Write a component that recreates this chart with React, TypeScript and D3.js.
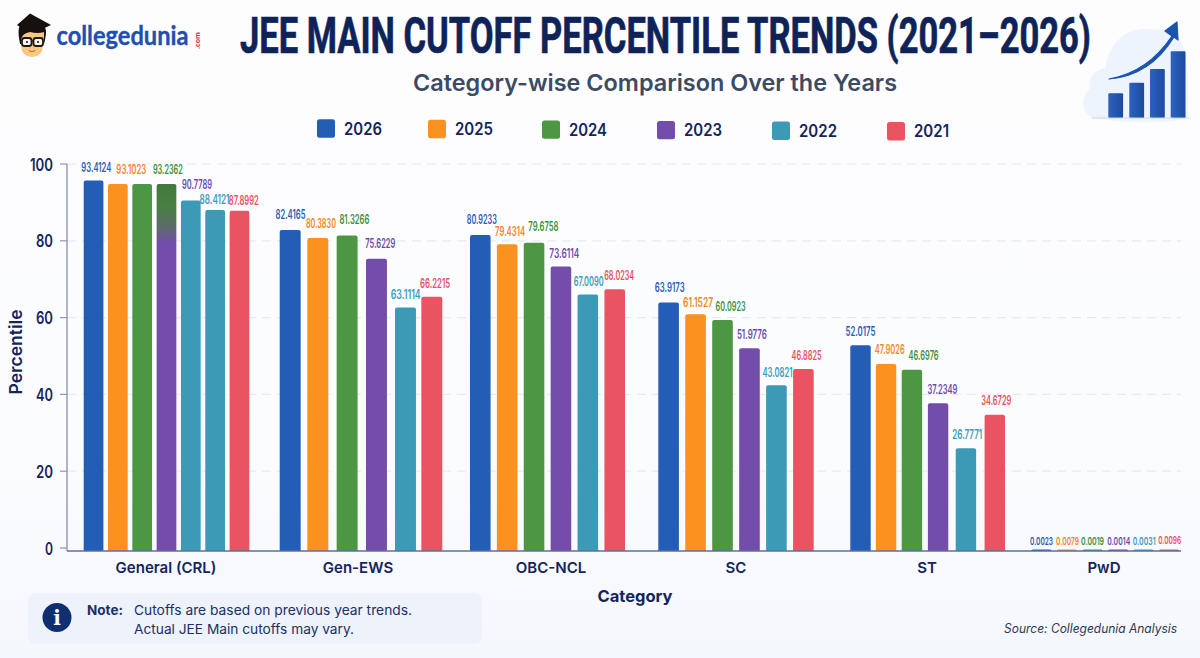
import React from "react";
import * as d3 from "d3";

// ---------- data ----------
const years = ["2026", "2025", "2024", "2023", "2022", "2021"];
const categories = ["General (CRL)", "Gen-EWS", "OBC-NCL", "SC", "ST", "PwD"];
const yTicks = [0, 20, 40, 60, 80, 100];

// Bar heights as drawn in the picture (the printed labels differ slightly from them)
const generalBars = [95.7, 94.8, 94.8, 94.8, 90.5, 88.0, 87.8];
const ewsBars = [82.8, 80.7, 81.4, 75.3, 62.6, 65.4];
const obcBars = [81.5, 79.1, 79.5, 73.3, 66.0, 67.4];
const scBars = [63.9, 60.9, 59.4, 52.0, 42.4, 46.6];
const stBars = [52.8, 47.9, 46.4, 37.7, 26.0, 34.7];
const pwdBars = [0.0023, 0.0079, 0.0019, 0.0014, 0.0031, 0.0096];

// Printed labels
const generalLabels = ["93.4124", "93.1023", "93.2362", null, "90.7789", "88.4121", "87.8992"];
const ewsLabels = ["82.4165", "80.3830", "81.3266", "75.6229", "63.1114", "66.2215"];
const obcLabels = ["80.9233", "79.4314", "79.6758", "73.6114", "67.0090", "68.0234"];
const scLabels = ["63.9173", "61.1527", "60.0923", "51.9776", "43.0821", "46.8825"];
const stLabels = ["52.0175", "47.9026", "46.6976", "37.2349", "26.7771", "34.6729"];
const pwdLabels = ["0.0023", "0.0079", "0.0019", "0.0014", "0.0031", "0.0096"];

// Which year colours each bar / label takes (the General group carries an extra bar)
const regularBarYears = [0, 1, 2, 3, 4, 5];
const generalBarYears = [0, 1, 2, 3, 4, 4, 5];
const generalLabelYears = [0, 1, 2, 3, 3, 4, 5];

const barValues = [generalBars, ewsBars, obcBars, scBars, stBars, pwdBars];
const labelTexts = [generalLabels, ewsLabels, obcLabels, scLabels, stLabels, pwdLabels];

// ---------- layout ----------
const W = 1200, H = 658;
const axisX = 67, baseY = 551, plotRight = 1181;
const colors = ["#245db5", "#fb921f", "#4d9644", "#744dab", "#3d9ab6", "#ea5362"];
const labelColors = ["#2e5bb5", "#f6852a", "#3c9040", "#6d49ad", "#3f9bb9", "#eb4f5f"];
const navy = "#14245c";
const groupSpans = [[83.7, 249.3], [279.7, 442.3], [470, 625], [658.3, 813.7], [850.3, 1005], [1031.3, 1179.3]];
const groupLabelX = [166, 358, 551, 736, 927, 1104];
const groupInner = [0.19, 0.26, 0.235, 0.235, 0.24, 0.2];
const barNudge = [
  [0, 0, 0, 0, 0, 0, 0],
  [0, -0.7, 0.3, 1.3, 2, 0],
  [0, 0, 0, 0, 0, 0],
  [0, 0, 0, 0, 0, 0],
  [0, -1.3, -2.3, -3, -2, 0],
  [0, 0, 0, 0, 0, 0],
];
const labelDx = [
  [2.8, 13.5, 25.7, 0, 6.2, -0.6, 4.4],
  [0.3, 3.1, 7.3, 3.9, 0.2, 3.3],
  [1.5, 2.9, 9.3, 3.3, 0.9, 4.5],
  [1.1, 2.5, 8.1, 2.4, 1, 3.2],
  [0, 3.7, 11.7, 4.3, 1.3, 1.5],
  [0, 0.5, 0, 0.7, 0.6, 0.6],
];
const labelDy = [
  [-12.8, -14, -14, 0, -15.5, -10.7, -10.7],
  [-15.7, -14.3, -16, -15, -13.4, -13.7],
  [-15, -12.3, -16, -13.4, -13.4, -13.7],
  [-14.7, -12, -13.3, -13.6, -12.6, -13.3],
  [-13.6, -14, -14, -13.3, -13.3, -14.4],
  [-8.2, -8.2, -7.6, -7.6, -8, -8.8],
];
const legendX = [317, 428, 542, 657, 772, 887];
const sans = "Inter, Roboto, 'Liberation Sans', sans-serif";
const narrow = "'Liberation Sans Narrow', Roboto, 'Liberation Sans', sans-serif";

const y = d3.scaleLinear().domain([0, 100]).range([548, 164]);

function rTop(x: number, top: number, w: number, bottom: number, r: number) {
  const p = d3.path();
  const rr = Math.min(r, (bottom - top));
  p.moveTo(x, bottom);
  p.lineTo(x, top + rr);
  p.quadraticCurveTo(x, top, x + rr, top);
  p.lineTo(x + w - rr, top);
  p.quadraticCurveTo(x + w, top, x + w, top + rr);
  p.lineTo(x + w, bottom);
  p.closePath();
  return p.toString();
}

function Logo() {
  return (
    <g>
      <path d="M19 38 Q17 24 24 22 L42 22 Q48 28 45 40 L44 44 L20 44 Z" fill="#17120f" />
      <path d="M21 40 Q22 33 30 32 Q38 34 44 32 Q44 42 43 46 Q42 57 32 57 Q22 57 21 46 Z" fill="#f9c77f" />
      <path d="M17 25 L30 13.5 L51 25 L36 32 L28 32 Z" fill="#16110f" />
      <rect x="22" y="38" width="9.5" height="8" rx="2.5" fill="#fff8ea" stroke="#1a1a1a" strokeWidth="1.8" />
      <rect x="33.5" y="38" width="9.5" height="8" rx="2.5" fill="#fff8ea" stroke="#1a1a1a" strokeWidth="1.8" />
      <path d="M31.5 41 L33.5 41" stroke="#1a1a1a" strokeWidth="1.5" />
      <circle cx="27" cy="42" r="1.1" fill="#222" />
      <circle cx="38" cy="42" r="1.1" fill="#222" />
      <path d="M29 50.5 Q32 52.5 35 50.5" fill="none" stroke="#c9603f" strokeWidth="1.1" />
      <text x="56.5" y="45" fontFamily="Lato, 'Open Sans', sans-serif" fontWeight={700} fontSize={27} fill="#1f4fb0" stroke="#1f4fb0" strokeWidth={0.35} textLength={132} lengthAdjust="spacingAndGlyphs">collegedunia</text>
      <text transform="translate(200,49) rotate(-90)" fontFamily="'Open Sans', sans-serif" fontWeight={700} fontSize={7.5} fill="#e0352f" textLength={17} lengthAdjust="spacingAndGlyphs">.com</text>
    </g>
  );
}

function GrowthIcon() {
  const xs = [1108.3, 1129.3, 1150, 1170.7];
  const tops = [93.3, 82.7, 69, 51.3];
  return (
    <g>
      <path d="M1092 118 Q1075 105 1090 88 Q1088 72 1105 68 Q1112 32 1142 29 Q1165 28 1178 36 Q1190 50 1188 118 Z" fill="#eef4fd" />
      <path d="M1092 118 L1189 118 Q1150 127 1092 118 Z" fill="#f1f6fd" />
      {xs.map((x, i) => (
        <rect key={i} x={x} y={tops[i]} width={14.8} height={118 - tops[i]} rx={1} fill="url(#iconBar)" />
      ))}
      <line x1={1092} x2={1189} y1={118} y2={118} stroke="#c6d7f1" strokeWidth={1.2} />
      <path d="M1109 79 Q1148 72 1172 36 L1165 31 L1177 22 L1178 40 L1174 37 Q1150 76 1109 79 Z" fill="#1a54ad" stroke="#1a54ad" strokeWidth={1.2} strokeLinejoin="round" />
    </g>
  );
}

export default function App() {
  return (
    <svg width={W} height={H} viewBox={`0 0 ${W} ${H}`} style={{ position: "absolute", left: 0, top: 0, display: "block" }}>
      <defs>
        <linearGradient id="bg" x1="0" y1="0" x2="0" y2="1">
          <stop offset="0" stopColor="#fdfdfe" />
          <stop offset="0.7" stopColor="#fbfcfe" />
          <stop offset="1" stopColor="#f4f7fd" />
        </linearGradient>
        <linearGradient id="iconBar" x1="0" y1="0" x2="1" y2="0">
          <stop offset="0" stopColor="#2c62c0" />
          <stop offset="1" stopColor="#1d4aa0" />
        </linearGradient>
        <linearGradient id="greenPurple" x1="0" y1="0" x2="0" y2="1">
          <stop offset="0" stopColor="#43793f" />
          <stop offset="0.06" stopColor="#47803f" />
          <stop offset="0.12" stopColor="#5d6a6e" />
          <stop offset="0.16" stopColor="#744dab" />
          <stop offset="1" stopColor="#744dab" />
        </linearGradient>
      </defs>
      <rect width={W} height={H} fill="url(#bg)" />

      <Logo />
      <GrowthIcon />

      <text x={240} y={52.5} fontFamily={narrow} fontWeight={700} fontSize={50} fill="#0f2358" stroke="#0f2358" strokeWidth={0.7} textLength={851} lengthAdjust="spacingAndGlyphs">JEE MAIN CUTOFF PERCENTILE TRENDS (2021–2026)</text>
      <text x={413} y={91} fontFamily={sans} fontWeight={600} fontSize={23} fill="#3d4a63" textLength={484} lengthAdjust="spacingAndGlyphs">Category-wise Comparison Over the Years</text>

      {years.map((yr, i) => (
        <g key={yr}>
          <rect x={legendX[i]} y={119.3 + i * 0.55} width={18} height={18.4} rx={2.5} fill={colors[i]} />
          <text x={legendX[i] + 27} y={134.5 + i * 0.55} fontFamily={sans} fontWeight={600} fontSize={17} fill={navy} textLength={i === 5 ? 35 : 38} lengthAdjust="spacingAndGlyphs">{yr}</text>
        </g>
      ))}

      {yTicks.filter((t) => t > 0).map((t) => (
        <line key={t} x1={axisX} x2={plotRight} y1={y(t)} y2={y(t)} stroke="#e7eaf6" strokeWidth={1.2} strokeDasharray="9 6" />
      ))}

      {categories.map((cat, c) => {
        const vals = barValues[c];
        const barYears = c === 0 ? generalBarYears : regularBarYears;
        const band = d3.scaleBand<number>()
          .domain(d3.range(vals.length))
          .range(groupSpans[c] as [number, number])
          .paddingInner(groupInner[c])
          .paddingOuter(0);
        return (
          <g key={cat}>
            {vals.map((v, i) => {
              const x = (band(i) as number) + barNudge[c][i];
              const top = v < 0.5 ? baseY - 1.6 : y(v);
              const blended = c === 0 && i === 3;
              return (
                <path key={i} d={rTop(x, top, band.bandwidth(), baseY, 2)} fill={blended ? "url(#greenPurple)" : colors[barYears[i]]} />
              );
            })}
            {labelTexts[c].map((txt, i) => {
              if (!txt) return null;
              const v = vals[i];
              const top = v < 0.5 ? baseY - 1.6 : y(v);
              const cx = (band(i) as number) + barNudge[c][i] + band.bandwidth() / 2 + labelDx[c][i];
              const col = labelColors[c === 0 ? generalLabelYears[i] : barYears[i]];
              const small = c === 5;
              return (
                <text key={i} x={cx} y={top + labelDy[c][i] + (small ? 3.6 : 4.4)} textAnchor="middle" fontFamily={sans} fontWeight={600} fontSize={small ? 10.5 : 12.5} fill={col} textLength={small ? 23 : 30} lengthAdjust="spacingAndGlyphs">{txt}</text>
              );
            })}
            <text x={groupLabelX[c]} y={573} textAnchor="middle" fontFamily={sans} fontWeight={600} fontSize={15} fill={navy}>{cat}</text>
          </g>
        );
      })}

      <line x1={axisX} x2={axisX} y1={164} y2={baseY} stroke="#8f96bb" strokeWidth={1.4} />
      <line x1={axisX} x2={plotRight} y1={baseY} y2={baseY} stroke="#5f6f9e" strokeWidth={1.4} />
      {yTicks.map((t) => (
        <g key={t}>
          <line x1={60} x2={axisX} y1={y(t)} y2={y(t)} stroke="#8f96bb" strokeWidth={1.2} />
          <text x={53} y={y(t) + 6.5} textAnchor="end" fontFamily={sans} fontWeight={600} fontSize={17} fill={navy} textLength={t === 100 ? 23 : t === 0 ? 8 : 17} lengthAdjust="spacingAndGlyphs">{t}</text>
        </g>
      ))}

      <text transform="translate(22,352) rotate(-90)" textAnchor="middle" fontFamily={sans} fontWeight={600} fontSize={17.5} fill={navy}>Percentile</text>
      <text x={635} y={602} textAnchor="middle" fontFamily={sans} fontWeight={700} fontSize={16.5} fill={navy}>Category</text>

      <rect x={28} y={593} width={454} height={51} rx={8} fill="#edf2fb" />
      <circle cx={57} cy={617.5} r={14.5} fill="#0f2f70" />
      <text x={57} y={625} textAnchor="middle" fontFamily="'DejaVu Serif', serif" fontWeight={700} fontSize={20} fill="#fff">i</text>
      <text x={87} y={614.5} fontFamily={sans} fontWeight={700} fontSize={13.5} fill="#1c2f66">Note:</text>
      <text x={134} y={614.5} fontFamily={sans} fontSize={13.5} fill="#1c2f66" textLength={278} lengthAdjust="spacingAndGlyphs">Cutoffs are based on previous year trends.</text>
      <text x={134} y={634} fontFamily={sans} fontSize={13.5} fill="#1c2f66" textLength={220} lengthAdjust="spacingAndGlyphs">Actual JEE Main cutoffs may vary.</text>

      <text x={1177} y={633} textAnchor="end" fontFamily={sans} fontStyle="italic" fontSize={12.5} fill="#30374f" textLength={173} lengthAdjust="spacingAndGlyphs">Source: Collegedunia Analysis</text>
    </svg>
  );
}
